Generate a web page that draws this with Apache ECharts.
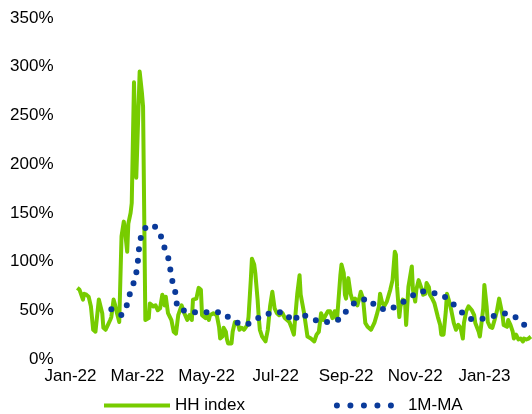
<!DOCTYPE html>
<html>
<head>
<meta charset="utf-8">
<script src="https://cdn.jsdelivr.net/npm/echarts@6/dist/echarts.min.js"></script>
<style>
  html, body { margin: 0; padding: 0; background: #fff; }
  #main { width: 532px; height: 414px; }
</style>
</head>
<body>
<div id="main"></div>
<script>
// HH index, daily-ish readings (%)
var hhDates = [
  '2022-01-07','2022-01-09','2022-01-12','2022-01-13','2022-01-15','2022-01-17','2022-01-19','2022-01-21','2022-01-23','2022-01-25',
  '2022-01-26','2022-01-29','2022-01-30','2022-02-01','2022-02-03','2022-02-05','2022-02-06','2022-02-08','2022-02-09','2022-02-11',
  '2022-02-13','2022-02-14','2022-02-15','2022-02-17','2022-02-18','2022-02-20','2022-02-21','2022-02-23','2022-02-24','2022-02-26',
  '2022-02-28','2022-03-03','2022-03-05','2022-03-06','2022-03-08','2022-03-11','2022-03-12','2022-03-15','2022-03-17','2022-03-19',
  '2022-03-21','2022-03-23','2022-03-25','2022-03-26','2022-03-28','2022-03-31','2022-04-02','2022-04-04','2022-04-06','2022-04-09',
  '2022-04-11','2022-04-14','2022-04-16','2022-04-18','2022-04-19','2022-04-22','2022-04-24','2022-04-26','2022-04-27','2022-04-30',
  '2022-05-01','2022-05-03','2022-05-04','2022-05-07','2022-05-10','2022-05-12','2022-05-13','2022-05-15','2022-05-16','2022-05-18',
  '2022-05-19','2022-05-20','2022-05-23','2022-05-24','2022-05-26','2022-05-27','2022-05-29','2022-05-30','2022-06-01','2022-06-03',
  '2022-06-04','2022-06-06','2022-06-07','2022-06-09','2022-06-10','2022-06-12','2022-06-13','2022-06-15','2022-06-16','2022-06-17',
  '2022-06-19','2022-06-22','2022-06-24','2022-06-26','2022-06-28','2022-06-30','2022-07-02','2022-07-04','2022-07-07','2022-07-09',
  '2022-07-11','2022-07-13','2022-07-15','2022-07-17','2022-07-18','2022-07-20','2022-07-22','2022-07-23','2022-07-24','2022-07-26',
  '2022-07-29','2022-08-01','2022-08-04','2022-08-06','2022-08-08','2022-08-10','2022-08-12','2022-08-14','2022-08-16','2022-08-18',
  '2022-08-20','2022-08-22','2022-08-24','2022-08-25','2022-08-27','2022-08-28','2022-08-30','2022-08-31','2022-09-01','2022-09-03',
  '2022-09-05','2022-09-07','2022-09-09','2022-09-11','2022-09-13','2022-09-14','2022-09-16','2022-09-18','2022-09-20','2022-09-23',
  '2022-09-24','2022-09-26','2022-09-28','2022-09-30','2022-10-01','2022-10-03','2022-10-05','2022-10-07','2022-10-10','2022-10-12',
  '2022-10-14','2022-10-15','2022-10-16','2022-10-18','2022-10-19','2022-10-21','2022-10-23','2022-10-24','2022-10-26','2022-10-27',
  '2022-10-29','2022-10-30','2022-11-01','2022-11-02','2022-11-04','2022-11-05','2022-11-07','2022-11-08','2022-11-10','2022-11-11',
  '2022-11-13','2022-11-14','2022-11-16','2022-11-18','2022-11-21','2022-11-23','2022-11-24','2022-11-26','2022-11-28','2022-11-29',
  '2022-12-01','2022-12-03','2022-12-05','2022-12-07','2022-12-09','2022-12-11','2022-12-13','2022-12-14','2022-12-16','2022-12-18',
  '2022-12-21','2022-12-23','2022-12-24','2022-12-27','2022-12-28','2022-12-30','2022-12-31','2023-01-01','2023-01-03','2023-01-04',
  '2023-01-06','2023-01-08','2023-01-10','2023-01-12','2023-01-14','2023-01-15','2023-01-17','2023-01-18','2023-01-21','2023-01-22',
  '2023-01-24','2023-01-26','2023-01-27','2023-01-29','2023-01-31','2023-02-02','2023-02-04','2023-02-05','2023-02-07','2023-02-09',
  '2023-02-11'
];
var hhValues = [
  73, 71, 61, 67, 66, 64, 54, 30, 28, 50,
  61, 47, 32, 30, 35, 40, 43, 61, 57, 47,
  38, 40, 126, 141, 132, 110, 139, 150, 160, 284,
  186, 295, 273, 259, 40, 42, 57, 54, 55, 50,
  52, 66, 55, 64, 47, 40, 28, 26, 45, 55,
  48, 40, 45, 40, 61, 62, 73, 71, 45, 42,
  45, 40, 45, 47, 45, 33, 21, 23, 32, 28,
  20, 16, 16, 28, 38, 40, 35, 30, 32, 30,
  30, 35, 43, 81, 103, 97, 88, 61, 43, 30,
  23, 18, 30, 54, 69, 52, 47, 45, 47, 42,
  40, 38, 32, 25, 40, 67, 86, 66, 67, 47,
  23, 21, 18, 25, 28, 47, 40, 45, 49, 49,
  42, 49, 40, 55, 86, 97, 88, 66, 62, 83,
  67, 59, 62, 55, 64, 69, 62, 37, 33, 30,
  28, 37, 45, 54, 67, 57, 55, 59, 71, 81,
  110, 107, 74, 43, 54, 61, 59, 35, 74, 81,
  95, 71, 59, 71, 81, 79, 71, 66, 67, 78,
  74, 66, 62, 57, 43, 35, 25, 25, 49, 67,
  59, 49, 37, 30, 35, 32, 21, 37, 49, 54,
  50, 45, 37, 28, 23, 42, 52, 76, 54, 38,
  33, 32, 40, 49, 62, 61, 45, 35, 33, 40,
  35, 28, 21, 25, 20, 21, 18, 21, 20, 21,
  23
];

// 1M moving average (%)
var maDates = [
  '2022-02-06','2022-02-15','2022-02-20','2022-02-23','2022-02-27','2022-03-01','2022-03-02','2022-03-03','2022-03-07','2022-03-15',
  '2022-03-21','2022-03-24','2022-03-28','2022-03-30','2022-04-01','2022-04-04','2022-04-05','2022-04-14','2022-04-25','2022-05-04',
  '2022-05-15','2022-05-23','2022-06-02','2022-06-10','2022-06-19','2022-06-30','2022-07-09','2022-07-16','2022-07-23','2022-07-31',
  '2022-08-10','2022-08-20','2022-08-27','2022-09-03','2022-09-11','2022-09-21','2022-09-28','2022-10-08','2022-10-18','2022-10-27',
  '2022-11-05','2022-11-15','2022-11-25','2022-12-03','2022-12-11','2022-12-19','2022-12-29','2023-01-09','2023-01-20','2023-01-30',
  '2023-02-06'
];
var maValues = [
  51, 45, 56, 70, 82, 95, 108, 121, 134, 138,
  129, 117, 105, 92, 79, 66, 53, 48, 48, 48,
  48, 40, 35, 37, 45, 48, 48, 38, 47, 42,
  38, 38, 41, 52, 60, 62, 53, 50, 56, 63,
  70, 68, 66, 58, 49, 41, 41, 44, 47, 42,
  34
];

var tickDates = ['2022-01-01','2022-03-01','2022-05-01','2022-07-01','2022-09-01','2022-11-01','2023-01-01'];
var tickLabels = ['Jan-22','Mar-22','May-22','Jul-22','Sep-22','Nov-22','Jan-23'];

var font = "'Liberation Sans', Arial, sans-serif";
var green = '#77cc00';
var blue = '#0a3a9a';

function ts(d) { return Date.parse(d + 'T00:00:00Z'); }
function pairs(dates, vals) {
  return dates.map(function (d, i) { return [ts(d), vals[i]]; });
}

var tickTimes = tickDates.map(ts);

var chart = echarts.init(document.getElementById('main'), null, { renderer: 'canvas' });
chart.setOption({
  animation: false,
  backgroundColor: '#fff',
  textStyle: { fontFamily: font },
  grid: { left: 70.5, right: 0, top: 18, bottom: 55, containLabel: false },
  legend: {
    left: 97,
    top: 392,
    itemWidth: 66,
    itemHeight: 14,
    itemGap: 89,
    itemStyle: { opacity: 0 },
    textStyle: { fontFamily: font, fontSize: 17, color: '#000' },
    data: [
      { name: 'HH index', lineStyle: { width: 4 } },
      { name: '1M-MA', lineStyle: { width: 6, type: [0, 13.5], cap: 'round' } }
    ]
  },
  xAxis: {
    type: 'value',
    min: ts('2022-01-01'),
    max: ts('2023-02-12'),
    axisLine: { show: false },
    axisTick: { show: false },
    splitLine: { show: false },
    axisLabel: {
      customValues: tickTimes,
      margin: 9,
      fontFamily: font,
      fontSize: 17,
      color: '#000',
      hideOverlap: false,
      formatter: function (v) {
        var best = 0;
        for (var i = 1; i < tickTimes.length; i++) {
          if (Math.abs(tickTimes[i] - v) < Math.abs(tickTimes[best] - v)) best = i;
        }
        return tickLabels[best];
      }
    }
  },
  yAxis: {
    type: 'value',
    min: 0,
    max: 350,
    interval: 50,
    axisLine: { show: false },
    axisTick: { show: false },
    splitLine: { show: false },
    axisLabel: {
      margin: 17,
      fontFamily: font,
      fontSize: 17,
      color: '#000',
      formatter: '{value}%'
    }
  },
  series: [
    {
      name: 'HH index',
      type: 'line',
      data: pairs(hhDates, hhValues),
      symbol: 'none',
      color: green,
      lineStyle: { color: green, width: 4, join: 'round' }
    },
    {
      name: '1M-MA',
      type: 'line',
      data: pairs(maDates, maValues),
      symbol: 'none',
      color: blue,
      lineStyle: { color: blue, width: 6, type: [0, 11.5], cap: 'round' }
    }
  ]
});
</script>
</body>
</html>
